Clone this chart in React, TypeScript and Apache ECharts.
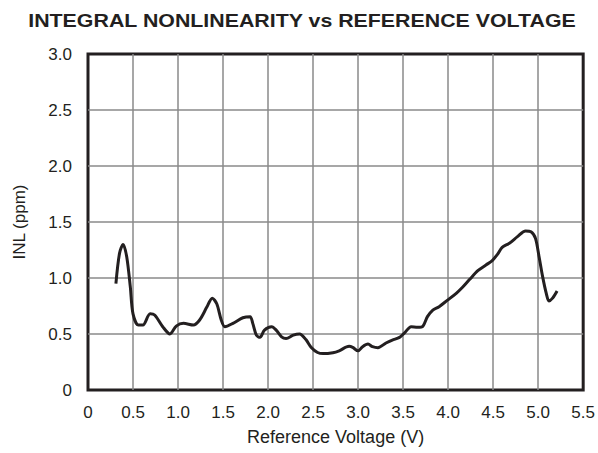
import React, { useEffect, useRef } from "react";
import * as echarts from "echarts";

const titleText = "INTEGRAL NONLINEARITY vs REFERENCE VOLTAGE";
const xAxisTitle = "Reference Voltage (V)";
const yAxisTitle = "INL (ppm)";

const voltage = [
  0.31, 0.35, 0.39, 0.43, 0.47, 0.5, 0.56, 0.61, 0.69, 0.74, 0.83, 0.91, 0.98,
  1.06, 1.17, 1.24, 1.32, 1.38, 1.43, 1.48, 1.52, 1.61, 1.72, 1.8, 1.83, 1.87,
  1.91, 1.96, 2.04, 2.09, 2.15, 2.2, 2.28, 2.35, 2.42, 2.48, 2.55, 2.61, 2.72,
  2.79, 2.9, 2.94, 3.0, 3.05, 3.11, 3.16, 3.22, 3.31, 3.38, 3.46, 3.51, 3.59,
  3.66, 3.72, 3.77, 3.83, 3.9, 3.99, 4.09, 4.16, 4.24, 4.33, 4.42, 4.49, 4.55,
  4.6, 4.68, 4.77, 4.86, 4.92, 4.97, 5.01, 5.05, 5.09, 5.12, 5.16, 5.21,
];

const inl = [
  0.95, 1.22, 1.3, 1.19, 0.92, 0.68, 0.58, 0.58, 0.68, 0.67, 0.565, 0.5, 0.57,
  0.595, 0.58, 0.625, 0.74, 0.82, 0.77, 0.625, 0.565, 0.595, 0.645, 0.655,
  0.595, 0.49, 0.47, 0.535, 0.565, 0.535, 0.475, 0.46, 0.49, 0.5, 0.45, 0.38,
  0.335, 0.325, 0.333, 0.35, 0.39, 0.38, 0.35, 0.387, 0.41, 0.387, 0.378, 0.42,
  0.446, 0.47, 0.505, 0.565, 0.56, 0.57, 0.655, 0.714, 0.744, 0.8, 0.863,
  0.917, 0.988, 1.065, 1.116, 1.155, 1.214, 1.274, 1.31, 1.369, 1.42, 1.413,
  1.354, 1.19, 1.01, 0.863, 0.795, 0.82, 0.884,
];

const FONT = '"Liberation Sans", Arial, Helvetica, sans-serif';
const INK = "#231f20";

const fmt = (v: number) => (v === 0 ? "0" : v.toFixed(1));

export default function App() {
  const ref = useRef<HTMLDivElement>(null);
  useEffect(() => {
    document.body.style.margin = "0";
    if (!ref.current) return;
    const chart = echarts.init(ref.current, undefined, { renderer: "svg" });
    const data = voltage.map((v, i) => [v, inl[i]]);
    chart.setOption({
      animation: false,
      backgroundColor: "#ffffff",
      graphic: [
        {
          type: "text",
          x: 302,
          y: 21,
          scaleX: 1.22,
          style: {
            text: titleText,
            align: "center",
            verticalAlign: "middle",
            fontFamily: FONT,
            fontWeight: "bold",
            fontSize: 17.5,
            fill: INK,
          },
        },
      ],
      grid: {
        left: 88,
        right: 14,
        top: 54,
        bottom: 63,
        show: true,
        borderColor: INK,
        borderWidth: 3,
        backgroundColor: "transparent",
      },
      xAxis: {
        type: "value",
        min: 0,
        max: 5.5,
        interval: 0.5,
        name: xAxisTitle,
        nameLocation: "middle",
        nameGap: 38,
        nameTextStyle: { fontFamily: FONT, fontSize: 18, color: INK },
        axisLine: { show: false },
        axisTick: { show: false },
        axisLabel: {
          formatter: fmt,
          margin: 14,
          fontFamily: FONT,
          fontSize: 17,
          color: INK,
        },
        splitLine: {
          show: true,
          showMinLine: false,
          showMaxLine: false,
          lineStyle: { color: "#8a8a8a", width: 1.5 },
        },
      },
      yAxis: {
        type: "value",
        min: 0,
        max: 3,
        interval: 0.5,
        name: yAxisTitle,
        nameLocation: "middle",
        nameGap: 60,
        nameRotate: 90,
        nameTextStyle: { fontFamily: FONT, fontSize: 17, color: INK },
        axisLine: { show: false },
        axisTick: { show: false },
        axisLabel: {
          formatter: fmt,
          margin: 16,
          fontFamily: FONT,
          fontSize: 17,
          color: INK,
        },
        splitLine: {
          show: true,
          showMinLine: false,
          showMaxLine: false,
          lineStyle: { color: "#8a8a8a", width: 1.5 },
        },
      },
      series: [
        {
          type: "line",
          data,
          showSymbol: false,
          smooth: 0.3,
          lineStyle: { color: INK, width: 3 },
          z: 5,
        },
      ],
    });
    return () => chart.dispose();
  }, []);
  return (
    <div
      ref={ref}
      style={{ position: "fixed", left: 0, top: 0, width: 598, height: 453, background: "#fff" }}
    />
  );
}
